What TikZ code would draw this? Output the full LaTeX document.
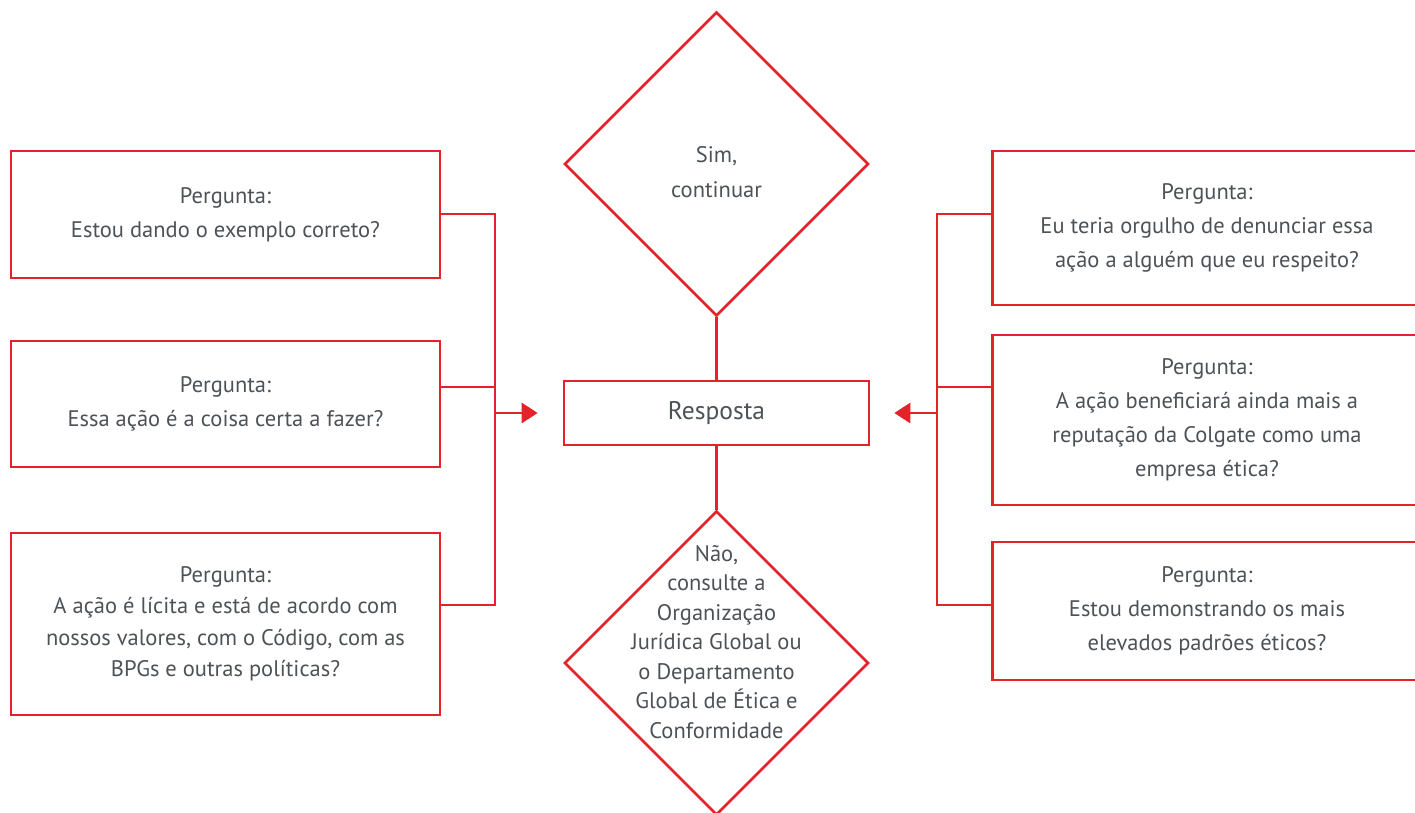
\documentclass[tikz,border=0pt]{standalone}
\usepackage{fontspec}
\setmainfont{PT Sans}
\usepackage{tikz}
\usetikzlibrary{arrows.meta,shapes.geometric}
\definecolor{cred}{HTML}{E42229}
\definecolor{cgray}{HTML}{4D5257}

\begin{document}
\begin{tikzpicture}[x=1pt,y=-1pt,line width=2.6pt,
                    qbox/.style={rectangle,draw=cred,minimum width=429pt,inner sep=0pt,
                      text=cgray,align=center,font=\fontsize{22.5}{34}\selectfont},
                    decision/.style={diamond,draw=cred,minimum width=304pt,minimum height=304pt,
                      inner sep=0pt,aspect=1},
                    txt/.style={text=cgray,align=center,font=\fontsize{22.5}{29.5}\selectfont},
                    link/.style={draw=cred},
                    arrow/.style={draw=cred,-{Triangle[length=16pt,width=20pt]}}]

  \clip (0,0) rectangle (1415,813);

  % left questions
  \node[qbox,minimum height=127pt] (q1) at (225.5,214.5) {Pergunta:\\Estou dando o exemplo correto?};
  \node[qbox,minimum height=126pt] (q2) at (225.5,404) {Pergunta:\\Essa ação é a coisa certa a fazer?};
  \node[qbox,minimum height=182pt,font=\fontsize{22.5}{31.5}\selectfont] (q3) at (225.5,624) {Pergunta:\\A ação é lícita e está de acordo com\\nossos valores, com o Código, com as\\BPGs e outras políticas?};

  % right questions
  \node[qbox,minimum height=154pt] (r1) at (1207,228) {Pergunta:\\Eu teria orgulho de denunciar essa\\ação a alguém que eu respeito?};
  \node[qbox,minimum height=170pt] (r2) at (1207,420) {Pergunta:\\A ação beneficiará ainda mais a\\reputação da Colgate como uma\\empresa ética?};
  \node[qbox,minimum height=138pt] (r3) at (1207,611) {Pergunta:\\Estou demonstrando os mais\\elevados padrões éticos?};

  % center
  \node[qbox,minimum width=305pt,minimum height=64pt,font=\fontsize{25.5}{30}\selectfont] (resp) at (716.5,413) {Resposta};
  \node[decision] (sim) at (716.5,164) {};
  \node[txt,font=\fontsize{22.5}{35}\selectfont] (simtxt) at (716.5,172) {Sim,\\continuar};
  \node[decision] (nao) at (716.5,663) {};
  \node[txt] (naotxt) at (716.5,642) {Não,\\consulte a\\Organização\\Jurídica Global ou\\o Departamento\\Global de Ética e\\Conformidade};

  % brackets
  \coordinate (lb1) at (495,214);
  \coordinate (lb2) at (495,387);
  \coordinate (lb3) at (495,605);
  \coordinate (lm) at (495,413);
  \coordinate (rb1) at (937,214);
  \coordinate (rb2) at (937,387);
  \coordinate (rb3) at (937,605);
  \coordinate (rm) at (937,413);

  \draw[link] (q1.east |- lb1) -- (lb1) -- (lb3) -- (q3.east |- lb3);
  \draw[link] (q2.east |- lb2) -- (lb2);
  \draw[link] (r1.west |- rb1) -- (rb1) -- (rb3) -- (r3.west |- rb3);
  \draw[link] (r2.west |- rb2) -- (rb2);

  \draw[arrow,shorten >=25pt] (lm) -- (resp.west);
  \draw[arrow,shorten >=24pt] (rm) -- (resp.east);
  \draw[link] (sim.south) -- (resp.north);
  \draw[link] (resp.south) -- (nao.north);
\end{tikzpicture}
\end{document}
